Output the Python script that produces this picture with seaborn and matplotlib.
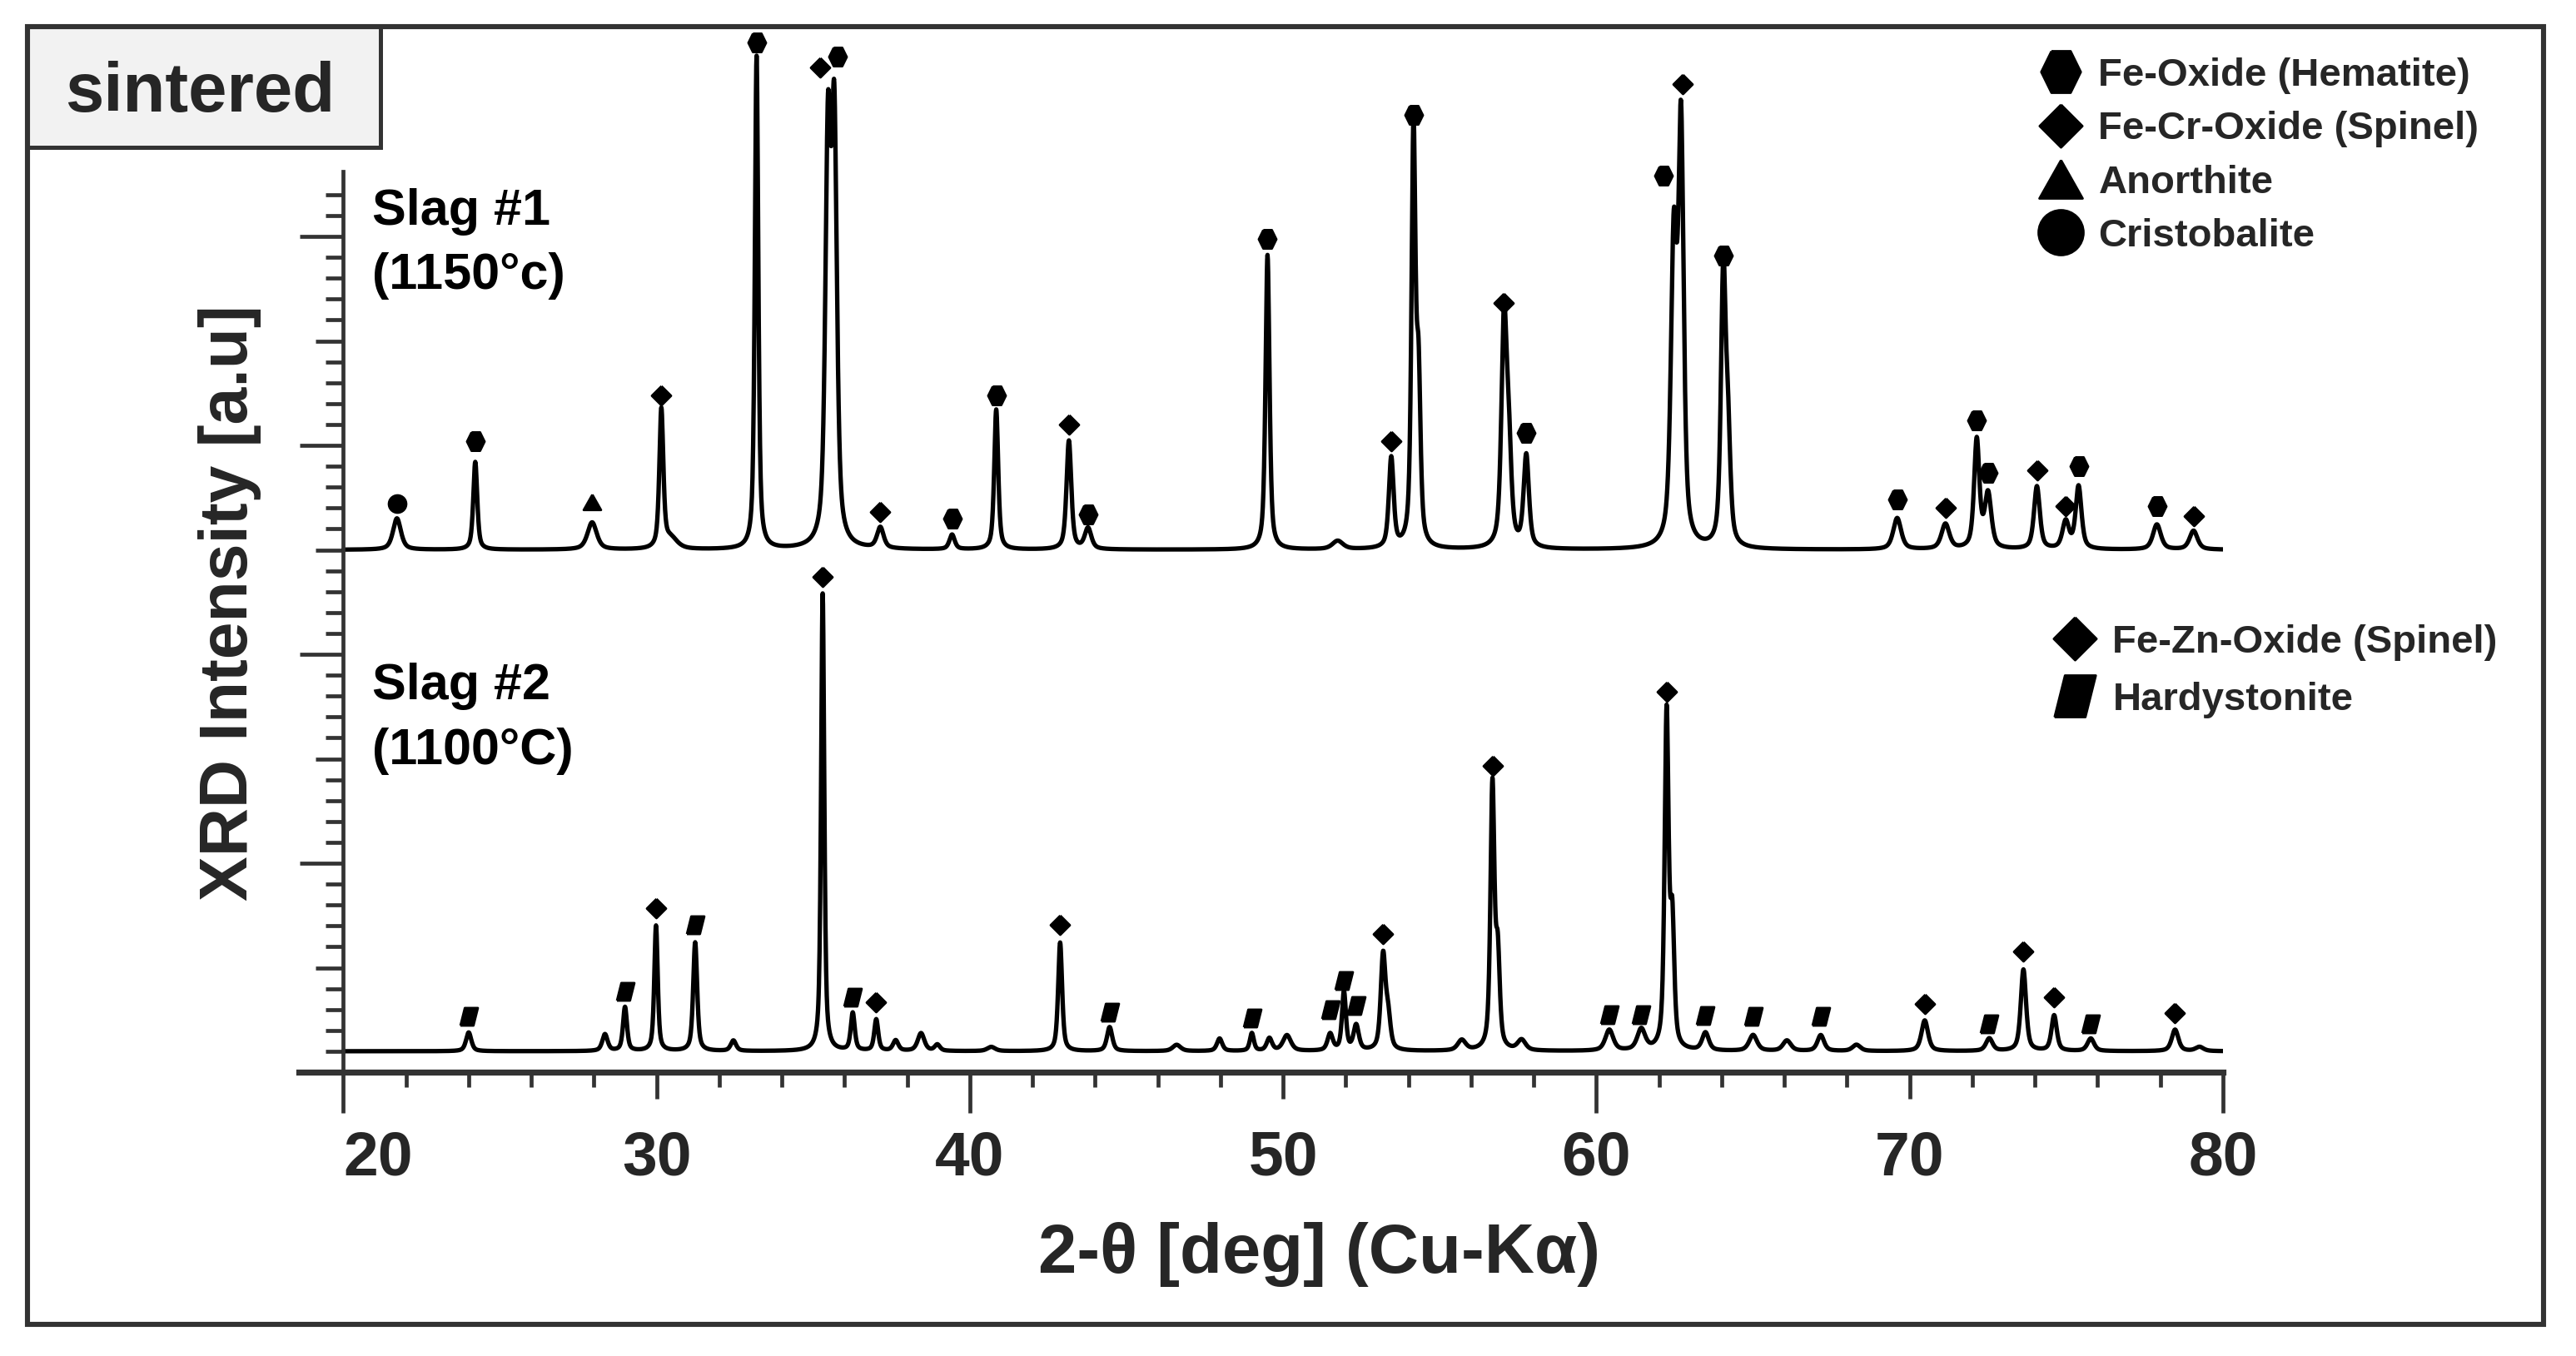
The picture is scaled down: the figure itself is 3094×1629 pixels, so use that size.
import numpy as np
import pandas as pd
import matplotlib
matplotlib.use("Agg")
import matplotlib.pyplot as plt
import matplotlib.transforms as mtrans
from matplotlib.path import Path
from matplotlib.patches import Rectangle
from matplotlib.lines import Line2D
from matplotlib.ticker import FixedLocator
import seaborn as sns

# ---------------- data ----------------
# Slag #1 (1150 °C): peak positions [deg], heights above baseline [a.u.], FWHM [deg]
slag1_baseline = 25.0
slag1_pos = [21.71, 24.21, 27.94, 30.15, 30.45, 33.19, 35.47, 35.67, 37.14, 39.43,
             40.84, 43.16, 43.77, 49.50, 51.74, 53.45, 54.16, 54.32, 57.05, 57.20,
             57.76, 62.47, 62.70, 64.05, 64.20, 69.60, 71.14, 72.14, 72.50, 74.06,
             74.98, 75.39, 77.89, 79.06]
slag1_height = [1.5, 4.2, 1.3, 6.6, 0.5, 23.6, 19.0, 19.6, 1.0, 0.7,
                6.7, 5.2, 1.0, 14.1, 0.4, 4.3, 19.8, 7.6, 10.6, 4.3,
                4.4, 14.2, 19.6, 13.0, 4.8, 1.5, 1.2, 5.2, 2.6, 3.0,
                1.3, 3.0, 1.2, 0.9]
slag1_fwhm = [0.30, 0.15, 0.35, 0.15, 0.50, 0.13, 0.20, 0.20, 0.25, 0.20,
              0.15, 0.18, 0.25, 0.15, 0.40, 0.18, 0.15, 0.15, 0.20, 0.20,
              0.20, 0.22, 0.20, 0.18, 0.18, 0.30, 0.30, 0.20, 0.25, 0.22,
              0.25, 0.22, 0.30, 0.30]

# Slag #2 (1100 °C)
slag2_baseline = 1.0
slag2_pos = [24.00, 28.35, 28.99, 29.98, 31.23, 32.45, 35.30, 36.26, 37.01, 37.63,
             38.44, 38.96, 40.68, 42.88, 44.46, 46.60, 47.97, 49.00, 49.56, 50.12,
             51.50, 51.94, 52.33, 53.19, 53.35, 55.70, 56.68, 56.85, 57.61, 60.41,
             61.43, 62.24, 62.42, 63.48, 65.00, 66.08, 67.16, 68.30, 70.48, 72.54,
             73.63, 74.61, 75.78, 78.47, 79.25]
slag2_height = [0.9, 0.8, 2.1, 6.0, 5.2, 0.5, 21.9, 1.8, 1.5, 0.5,
                0.85, 0.3, 0.2, 5.2, 1.15, 0.3, 0.6, 0.85, 0.6, 0.75,
                0.8, 2.8, 1.2, 4.5, 1.5, 0.5, 12.6, 4.3, 0.5, 1.0,
                1.0, 16.0, 5.8, 0.85, 0.76, 0.5, 0.76, 0.3, 1.47, 0.6,
                3.9, 1.7, 0.6, 1.03, 0.2]
slag2_fwhm = [0.20, 0.20, 0.15, 0.13, 0.15, 0.20, 0.12, 0.15, 0.15, 0.20,
              0.25, 0.20, 0.30, 0.15, 0.20, 0.30, 0.20, 0.15, 0.20, 0.30,
              0.20, 0.15, 0.20, 0.18, 0.18, 0.30, 0.15, 0.15, 0.30, 0.30,
              0.30, 0.15, 0.15, 0.25, 0.30, 0.30, 0.25, 0.30, 0.25, 0.25,
              0.20, 0.20, 0.25, 0.25, 0.30]

# Phase tags (x position, height)
slag1_hematite_x = [24.21, 33.19, 35.77, 39.43, 40.84, 43.77, 49.50, 54.16, 57.76,
                    62.14, 64.05, 69.60, 72.14, 72.50, 75.39, 77.89]
slag1_hematite_y = [30.2, 49.3, 48.6, 26.5, 32.4, 26.7, 39.9, 45.8, 30.6,
                    42.9, 39.1, 27.4, 31.2, 28.7, 29.0, 27.1]
slag1_spinel_x = [30.15, 35.23, 37.14, 43.16, 53.45, 57.05, 62.74, 71.14, 74.06, 74.98, 79.06]
slag1_spinel_y = [32.4, 48.1, 26.8, 31.0, 30.2, 36.8, 47.3, 27.0, 28.8, 27.1, 26.6]
slag1_anorthite_x = [27.94]
slag1_anorthite_y = [27.3]
slag1_cristobalite_x = [21.71]
slag1_cristobalite_y = [27.2]

slag2_spinel_x = [29.98, 35.30, 37.01, 42.88, 53.19, 56.68, 62.24, 70.48, 73.63, 74.61, 78.47]
slag2_spinel_y = [7.85, 23.7, 3.36, 7.06, 6.6, 14.66, 18.2, 3.27, 5.76, 3.6, 2.83]
slag2_hardy_x = [24.00, 28.99, 31.23, 36.26, 44.46, 49.00, 51.50, 51.94, 52.33,
                 60.41, 61.43, 63.48, 65.00, 67.16, 72.54, 75.78]
slag2_hardy_y = [2.67, 3.86, 7.05, 3.6, 2.87, 2.6, 2.97, 4.4, 3.19,
                 2.75, 2.75, 2.7, 2.67, 2.67, 2.3, 2.3]

legend1_labels = ["Fe-Oxide (Hematite)", "Fe-Cr-Oxide (Spinel)", "Anorthite", "Cristobalite"]
legend2_labels = ["Fe-Zn-Oxide (Spinel)", "Hardystonite"]
xtick_values = [20, 30, 40, 50, 60, 70, 80]

# ---------------- style ----------------
sns.set_theme(style="ticks")
plt.rcParams["font.family"] = ["Liberation Sans", "DejaVu Sans"]
plt.rcParams["font.weight"] = "bold"
INK = "#333333"

W, H, DPI = 3094, 1629, 200
fig = plt.figure(figsize=(W / DPI, H / DPI), dpi=DPI)
fig.patch.set_facecolor("white")
ax = fig.add_axes([359 / W, 1 - 1288 / H, (2670 - 359) / W, (1288 - 33) / H])
ax.set_facecolor("none")


def px(x):
    return x / W


def py(y):
    return 1 - y / H


# ---------------- profiles ----------------
two_theta = np.round(np.arange(20.0, 80.0001, 0.01), 4)


def profile(x, pos, hgt, fw, base, eta=0.6):
    y = np.full_like(x, base, dtype=float)
    for c, h, w in zip(pos, hgt, fw):
        d = (x - c) / (w / 2.0)
        y += h * (eta / (1 + d ** 2) + (1 - eta) * np.exp(-np.log(2) * d ** 2))
    return y


df = pd.concat([
    pd.DataFrame({"two_theta": two_theta,
                  "intensity": profile(two_theta, slag1_pos, slag1_height, slag1_fwhm, slag1_baseline),
                  "sample": "Slag #1"}),
    pd.DataFrame({"two_theta": two_theta,
                  "intensity": profile(two_theta, slag2_pos, slag2_height, slag2_fwhm, slag2_baseline),
                  "sample": "Slag #2"}),
])

sns.lineplot(data=df, x="two_theta", y="intensity", units="sample", estimator=None,
             color="black", lw=1.9, ax=ax, legend=False)

# ---------------- marker shapes ----------------
hexagon = Path([(-0.46, 1), (0.46, 1), (0.95, 0), (0.46, -1), (-0.46, -1), (-0.95, 0), (-0.46, 1)])
diamond = Path([(0, 1), (1.0, 0), (0, -1), (-1.0, 0), (0, 1)])
triangle = Path([(0, 1), (1.13, -1), (-1.13, -1), (0, 1)])
parallelogram = Path([(-0.99, -1), (0.49, -1), (0.99, 1), (-0.49, 1), (-0.99, -1)])

mk = dict(ls="none", color="black", clip_on=False, zorder=5)
ax.plot(slag1_hematite_x, slag1_hematite_y, marker=hexagon, ms=8.0, **mk)
ax.plot(slag1_spinel_x, slag1_spinel_y, marker=diamond, ms=8.3, **mk)
ax.plot(slag1_anorthite_x, slag1_anorthite_y, marker=triangle, ms=7.5, **mk)
ax.plot(slag1_cristobalite_x, slag1_cristobalite_y, marker="o", ms=7.5, **mk)
ax.plot(slag2_spinel_x, slag2_spinel_y, marker=diamond, ms=8.3, **mk)
ax.plot(slag2_hardy_x, slag2_hardy_y, marker=parallelogram, ms=7.6, **mk)

# ---------------- axes ----------------
ax.set_xlim(18.58, 80)
ax.set_ylim(0, 50)
for s in ("top", "right"):
    ax.spines[s].set_visible(False)
ax.spines["left"].set_position(("data", 20))
ax.spines["left"].set_bounds(0, 43.1)
ax.spines["left"].set_linewidth(1.7)
ax.spines["left"].set_color(INK)
ax.spines["bottom"].set_linewidth(2.6)
ax.spines["bottom"].set_color(INK)

ax.set_xticks(xtick_values)
ax.set_xticklabels([str(v) for v in xtick_values])
ax.xaxis.set_minor_locator(FixedLocator([v for v in range(22, 80, 2) if v % 10]))
ax.tick_params(axis="x", which="major", length=11.5, width=1.7, color=INK, pad=13.5,
               labelsize=27, direction="out")
ax.tick_params(axis="x", which="minor", length=6.5, width=1.7, color=INK, direction="out")
for lab in ax.get_xticklabels():
    lab.set_fontweight("bold")

ax.set_yticks([5, 10, 15, 20, 25, 30, 35, 40])
ax.yaxis.set_minor_locator(FixedLocator([v for v in range(1, 43) if v % 5]))
ax.tick_params(axis="y", which="major", length=11.9, width=1.7, color=INK, labelleft=False,
               direction="out")
ax.tick_params(axis="y", which="minor", length=7.6, width=1.7, color=INK, direction="out")

for t, v in zip(ax.xaxis.get_major_ticks(), xtick_values):
    if v in (20, 40, 60, 80):
        t.tick1line.set_markersize(17.6)
first = ax.xaxis.get_major_ticks()[0]
first.label1.set_transform(first.label1.get_transform()
                           + mtrans.ScaledTranslation(42 / DPI, 0, fig.dpi_scale_trans))
for t, v in zip(ax.yaxis.get_major_ticks(), [5, 10, 15, 20, 25, 30, 35, 40]):
    if v % 10 == 0:
        t.tick1line.set_markersize(18.7)

ax.set_xlabel("2-θ [deg] (Cu-Kα)", fontsize=30, fontweight="bold")
ax.xaxis.label.set_va("center")
ax.xaxis.set_label_coords(0.5305, -0.1745)
ax.set_ylabel("XRD Intensity [a.u]", fontsize=29, fontweight="bold")
ax.yaxis.label.set_va("center")
ax.yaxis.set_label_coords(-0.0359, 0.449)

# ---------------- sample annotations ----------------
tk = dict(fontsize=22, fontweight="bold", ha="left", va="baseline", color="black")
fig.text(px(447), py(270), "Slag #1", **tk)
fig.text(px(447), py(347), "(1150°c)", **tk)
fig.text(px(447), py(840), "Slag #2", **tk)
fig.text(px(447), py(918), "(1100°C)", **tk)

# ---------------- legends ----------------
h1 = [Line2D([], [], ls="none", marker=hexagon, ms=18, color="black"),
      Line2D([], [], ls="none", marker=diamond, ms=18.5, color="black"),
      Line2D([], [], ls="none", marker=triangle, ms=18.7, color="black"),
      Line2D([], [], ls="none", marker="o", ms=19.4, color="black")]
leg1 = fig.legend(h1, legend1_labels, loc="upper left", bbox_to_anchor=(px(2451), py(69)),
                  frameon=False, borderpad=0, borderaxespad=0, handlelength=1.0,
                  handletextpad=0.47, labelspacing=0.43,
                  prop={"size": 17, "weight": "bold"})
h2 = [Line2D([], [], ls="none", marker=diamond, ms=18.5, color="black"),
      Line2D([], [], ls="none", marker=parallelogram, ms=18, color="black")]
leg2 = fig.legend(h2, legend2_labels, loc="upper left", bbox_to_anchor=(px(2468), py(750)),
                  frameon=False, borderpad=0, borderaxespad=0, handlelength=1.0,
                  handletextpad=0.47, labelspacing=0.53,
                  prop={"size": 17, "weight": "bold"})

# ---------------- frame and "sintered" tag ----------------
fig.add_artist(Rectangle((px(33), py(1591)), px(3055 - 33), (1591 - 32) / H,
                         transform=fig.transFigure, fill=False, ec=INK, lw=2.2, zorder=10))
fig.add_artist(Rectangle((px(33), py(177)), px(457 - 33), (177 - 32) / H,
                         transform=fig.transFigure, fc="#f2f2f2", ec=INK, lw=1.8, zorder=9))
fig.text(px(240), py(134), "sintered", fontsize=30, fontweight="bold", ha="center",
         va="baseline", zorder=11)

fig.savefig("out.png", dpi=DPI, facecolor="white")
